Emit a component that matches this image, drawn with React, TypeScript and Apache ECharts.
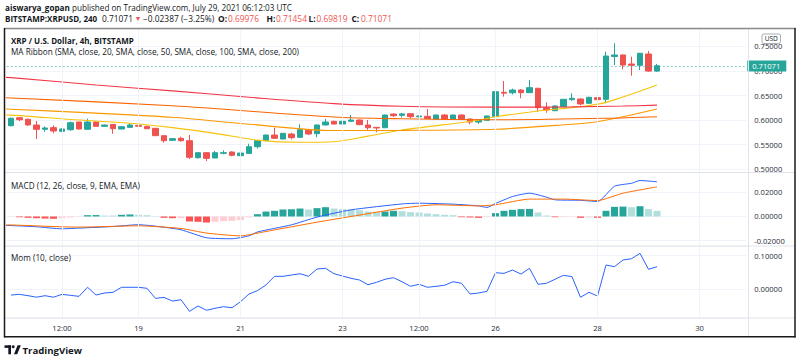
import React, { useEffect, useRef } from 'react';
import * as echarts from 'echarts';

const FONT = "'Open Sans', 'Noto Sans', sans-serif";
const TEXT = '#131722';
const AXIS_TEXT = '#2a2e39';
const GRID = '#f0f3fa';
const SEP = '#e0e3eb';
const UP = '#26a69a';
const DOWN = '#ef5350';

const pad2 = (n: number) => String(n).padStart(2, '0');
const FIRST_BAR_UTC = Date.UTC(2021, 6, 16, 12, 0);
const SLOT_COUNT = 87;
const categories: string[] = Array.from({ length: SLOT_COUNT }, (_, k) => {
  const d = new Date(FIRST_BAR_UTC + k * 4 * 3600 * 1000);
  return `${d.getUTCFullYear()}-${pad2(d.getUTCMonth() + 1)}-${pad2(d.getUTCDate())} ${pad2(d.getUTCHours())}:00`;
});

const tickCategories = [
  '2021-07-17 12:00', '2021-07-19 00:00', '2021-07-21 00:00', '2021-07-23 00:00',
  '2021-07-24 12:00', '2021-07-26 00:00', '2021-07-28 00:00', '2021-07-30 00:00',
];
const tickLabels = ['12:00', '19', '21', '23', '12:00', '26', '28', '30'];

const opens = [0.5884,0.6047,0.6014,0.5898,0.5810,0.5844,0.5769,0.5802,0.5959,0.5810,
  0.5959,0.5871,0.5911,0.5816,0.5850,0.5890,0.5870,0.5830,0.5680,0.5585,
  0.5626,0.5578,0.5231,0.5333,0.5225,0.5320,0.5347,0.5272,0.5319,0.5455,
  0.5578,0.5694,0.5612,0.5714,0.5647,0.5802,0.5721,0.5898,0.5973,0.5918,
  0.5973,0.6000,0.5898,0.5850,0.5843,0.6122,0.6095,0.6129,0.6065,0.6075,
  0.6020,0.6102,0.6020,0.6102,0.6020,0.5959,0.5993,0.6068,0.6565,0.6555,
  0.6612,0.6558,0.6647,0.6251,0.6190,0.6272,0.6415,0.6429,0.6341,0.6456,
  0.6422,0.7295,0.7327,0.7143,0.7116,0.7347,0.69976];
const closes = [0.6035,0.6006,0.5900,0.5810,0.5837,0.5776,0.5816,0.5945,0.5816,0.5959,
  0.5871,0.5898,0.5823,0.5864,0.5898,0.5872,0.5823,0.5680,0.5578,0.5620,
  0.5578,0.5239,0.5333,0.5218,0.5333,0.5333,0.5280,0.5326,0.5455,0.5578,
  0.5694,0.5626,0.5728,0.5640,0.5802,0.5714,0.5898,0.5959,0.5918,0.5973,
  0.6000,0.5905,0.5843,0.5837,0.6102,0.6088,0.6125,0.6068,0.6082,0.6030,
  0.6102,0.6020,0.6102,0.6014,0.5959,0.6000,0.6082,0.6578,0.6548,0.6612,
  0.6558,0.6660,0.6251,0.6204,0.6286,0.6422,0.6443,0.6327,0.6463,0.6415,
  0.7306,0.7327,0.7122,0.7116,0.7361,0.6998,0.71071];
const lows = [0.5870,0.5979,0.5880,0.5612,0.5760,0.5729,0.5755,0.5780,0.5810,0.5805,
  0.5865,0.5860,0.5720,0.5810,0.5845,0.5770,0.5815,0.5675,0.5537,0.5575,
  0.5560,0.5204,0.5215,0.5163,0.5220,0.5300,0.5260,0.5180,0.5315,0.5420,
  0.5570,0.5620,0.5605,0.5605,0.5640,0.5700,0.5646,0.5890,0.5910,0.5900,
  0.5965,0.5895,0.5800,0.5750,0.5835,0.6060,0.6050,0.6035,0.6055,0.6020,
  0.6015,0.6015,0.6015,0.6005,0.5912,0.5920,0.5985,0.6060,0.6476,0.6520,
  0.6443,0.6550,0.6170,0.6149,0.6180,0.6265,0.6390,0.6300,0.6335,0.6390,
  0.6340,0.7120,0.7035,0.6904,0.7020,0.6985,0.69819];
const highs = [0.6050,0.6061,0.6030,0.5980,0.5870,0.5890,0.5830,0.5970,0.5965,0.6027,
  0.5975,0.5905,0.5915,0.5870,0.5939,0.5895,0.5885,0.5835,0.5685,0.5630,
  0.5660,0.5694,0.5340,0.5340,0.5370,0.5380,0.5360,0.5330,0.5516,0.5590,
  0.5700,0.5843,0.5735,0.5740,0.5912,0.5820,0.5905,0.6020,0.5985,0.6035,
  0.6102,0.6010,0.6000,0.5855,0.6110,0.6135,0.6145,0.6135,0.6090,0.6225,
  0.6110,0.6120,0.6110,0.6110,0.6025,0.6005,0.6090,0.6612,0.6796,0.6640,
  0.6630,0.6816,0.6660,0.6361,0.6295,0.6430,0.6545,0.6440,0.6475,0.6475,
  0.7394,0.7565,0.7340,0.7292,0.7370,0.7408,0.71454];

// MA Ribbon readings [bar position, value] (first point is the left edge of the pane)
const ma20 = [[-0.7,0.6102],[0,0.610],[7,0.601],[14,0.5935],[19,0.5845],[24,0.5728],[29,0.5590],[34,0.5545],[38,0.5557],[42,0.5672],[46,0.5795],[51,0.5905],[55,0.5995],[57,0.6065],[62,0.6184],[67,0.6272],[70,0.6360],[76,0.6714]];
const ma50 = [[-0.7,0.6225],[0,0.6220],[10,0.6140],[19,0.6055],[28,0.5915],[38,0.5785],[46,0.5788],[57,0.5810],[64,0.5890],[69,0.5966],[76,0.6225]];
const ma100 = [[-0.7,0.6455],[0,0.6450],[19,0.6290],[38,0.6062],[46,0.6025],[57,0.6005],[70,0.6035],[76,0.6068]];
const ma200 = [[-0.7,0.6871],[0,0.6865],[10,0.6714],[19,0.6595],[28,0.6465],[38,0.6335],[46,0.6280],[57,0.6262],[66,0.6268],[72,0.6285],[76,0.6303]];

const macdLine = [[-0.7,-0.0074],[0,-0.0075],[3,-0.0085],[6,-0.0102],[8,-0.0096],[12,-0.0083],[15,-0.0068],[17,-0.0080],[20,-0.0110],[23,-0.0176],[26,-0.0184],[28,-0.0160],[29,-0.0128],[33,-0.0069],[36,-0.0005],[40,0.0055],[46,0.0104],[48,0.0110],[52,0.0102],[55,0.0088],[56,0.0075],[57,0.0108],[59,0.0165],[61,0.0193],[63,0.0160],[64,0.0138],[67,0.0134],[69,0.0124],[71,0.0250],[73,0.0275],[74,0.0298],[76,0.0287]];
const signalLine = [[-0.7,-0.0069],[0,-0.0070],[8,-0.0088],[15,-0.0077],[20,-0.0099],[23,-0.0137],[27,-0.0160],[30,-0.0124],[36,-0.0047],[40,0.0000],[46,0.0069],[50,0.0097],[55,0.0088],[57,0.0097],[61,0.0144],[65,0.0144],[69,0.0132],[72,0.0193],[76,0.0245]];
const macdHist = [-0.0003,-0.0006,-0.0011,-0.0014,-0.0017,-0.0019,-0.0014,-0.0008,-0.0003,0.0011,
  0.0012,0.0008,0.0008,0.0014,0.0017,0.0014,0.0011,0.0003,-0.0011,-0.0014,
  -0.0014,-0.0041,-0.0044,-0.0050,-0.0044,-0.0039,-0.0036,-0.0030,-0.0008,0.0019,
  0.0041,0.0047,0.0058,0.0060,0.0066,0.0058,0.0069,0.0077,0.0066,0.0060,
  0.0058,0.0052,0.0041,0.0039,0.0041,0.0047,0.0044,0.0036,0.0033,0.0025,
  0.0019,0.0014,0.0011,-0.0006,-0.0008,-0.0011,-0.0006,0.0028,0.0047,0.0055,
  0.0061,0.0063,0.0033,0.0008,-0.0006,-0.0005,-0.0003,-0.0011,-0.0008,-0.0011,
  0.0047,0.0080,0.0082,0.0077,0.0085,0.0061,0.0047];
const momentum = [-0.017,-0.015,-0.019,-0.0235,-0.019,-0.0235,-0.015,-0.018,-0.021,0.006,
  -0.017,-0.011,-0.009,0.006,0.006,0.006,0.003,-0.027,-0.024,-0.035,
  -0.031,-0.0655,-0.0497,-0.0625,-0.0565,-0.0518,-0.0548,-0.037,-0.014,-0.004,
  0.013,0.0387,0.0387,0.0426,0.0464,0.0387,0.0604,0.0625,0.0464,0.0396,
  0.0327,0.0277,0.0137,0.0208,0.0298,0.0345,0.0226,0.0089,0.0149,0.006,
  0.0089,0.0119,0.0226,0.0179,-0.014,-0.011,-0.006,0.0494,0.0474,0.0574,
  0.0454,0.0625,0.0149,0.0179,0.0298,0.0417,0.0377,-0.0238,-0.0089,-0.0199,
  0.0723,0.0673,0.0872,0.0911,0.1071,0.0595,0.0673];

const changeText = '\u22120.02387 (\u22123.25%)';

const GRID_LEFT = 6.75;
const GRID_RIGHT = 53.75;
const fmt5 = (v: number) => v.toFixed(5);

function yAxis(gridIndex: number, min: number, max: number, splitNumber: number, step: number) {
  return {
    type: 'value', gridIndex, position: 'right', min, max, splitNumber,
    axisLine: { show: false }, axisTick: { show: false },
    axisLabel: {
      margin: 8, fontSize: 7.6, color: AXIS_TEXT, fontFamily: FONT,
      formatter: (v: number) => (Math.abs(v / step - Math.round(v / step)) < 1e-6 ? fmt5(v) : ''),
    },
    splitLine: { lineStyle: { color: GRID, width: 1 } },
  };
}

function xAxis(gridIndex: number, showLabels: boolean) {
  return {
    type: 'category', gridIndex, data: categories, boundaryGap: true,
    axisLine: { show: false }, axisTick: { show: false }, splitLine: { show: false },
    axisLabel: showLabels
      ? {
          interval: (_i: number, v: string) => tickCategories.includes(v),
          formatter: (v: string) => { const k = tickCategories.indexOf(v); return k >= 0 ? tickLabels[k] : ''; },
          fontSize: 7.6, color: AXIS_TEXT, margin: 6, fontFamily: FONT,
        }
      : { show: false },
  };
}

function vGrid(g: number) {
  return {
    type: 'line', xAxisIndex: g, yAxisIndex: g, data: [], silent: true, z: 0,
    markLine: {
      silent: true, symbol: ['none', 'none'], label: { show: false },
      lineStyle: { color: GRID, width: 1, type: 'solid' },
      data: tickCategories.map((c) => ({ xAxis: c })),
    },
  };
}

function maSeries(data: number[][], color: string) {
  return {
    type: 'line', xAxisIndex: 0, yAxisIndex: 0, data, showSymbol: false, smooth: 0.3,
    lineStyle: { color, width: 1.1 }, silent: true, z: 3,
  };
}

function histColor(i: number) {
  const v = macdHist[i];
  const prev = i > 0 ? macdHist[i - 1] : v;
  if (v >= 0) return v > prev ? '#26a69a' : '#b2dfdb';
  return v < prev ? '#ff5252' : '#ffcdd2';
}

function buildOption() {
  const n = closes.length - 1;
  const last = closes[n];
  const H2 = 8.4;
  const LBL = 8.2;
  const line = (x1: number, y1: number, x2: number, y2: number, stroke: string, lw = 1) => ({
    type: 'line', shape: { x1, y1, x2, y2 }, style: { stroke, lineWidth: lw }, silent: true, z: 50,
  });
  const label = (x: number, y: number, text: string, bold = false, size = LBL, fill = TEXT) => ({
    type: 'text', x, y, silent: true, z: 60,
    style: { text, fill, fontSize: size, fontFamily: FONT, fontWeight: bold ? 'bold' : 'normal', verticalAlign: 'middle', align: 'left' },
  });

  return {
    animation: false,
    backgroundColor: '#ffffff',
    textStyle: { fontFamily: FONT },
    grid: [
      { left: GRID_LEFT, right: GRID_RIGHT, top: 29, height: 143.5 },
      { left: GRID_LEFT, right: GRID_RIGHT, top: 172.5, height: 73.5 },
      { left: GRID_LEFT, right: GRID_RIGHT, top: 246, height: 72 },
    ],
    xAxis: [xAxis(0, false), xAxis(1, false), xAxis(2, true)],
    yAxis: [
      yAxis(0, 0.4929, 0.7857, 5, 0.05),
      yAxis(1, -0.02442, 0.03642, 3, 0.02),
      yAxis(2, -0.0854, 0.1289, 2, 0.1),
    ],
    series: [
      vGrid(0), vGrid(1), vGrid(2),
      {
        type: 'candlestick', xAxisIndex: 0, yAxisIndex: 0, barWidth: 6, z: 2,
        data: opens.map((o, i) => [o, closes[i], lows[i], highs[i]]),
        itemStyle: { color: UP, color0: DOWN, borderColor: UP, borderColor0: DOWN, borderWidth: 1 },
        markLine: {
          silent: true, symbol: ['none', 'none'],
          lineStyle: { color: 'rgba(38,166,154,0.55)', width: 1, type: [2, 2] },
          label: {
            show: true, position: 'end', distance: 1, formatter: () => fmt5(last),
            color: '#ffffff', backgroundColor: UP, padding: [2, 6, 1, 5], fontSize: 7.6, fontFamily: FONT,
          },
          emphasis: { disabled: true },
          data: [{ yAxis: last }],
        },
      },
      maSeries(ma20, '#f6c309'),
      maSeries(ma50, '#fb9800'),
      maSeries(ma100, '#fb6500'),
      maSeries(ma200, '#f23645'),
      {
        type: 'bar', xAxisIndex: 1, yAxisIndex: 1, barWidth: 7, silent: true,
        data: macdHist.map((v, i) => ({ value: v, itemStyle: { color: histColor(i) } })),
      },
      { type: 'line', xAxisIndex: 1, yAxisIndex: 1, data: macdLine, showSymbol: false, smooth: 0.2, lineStyle: { color: '#2962ff', width: 1 }, silent: true },
      { type: 'line', xAxisIndex: 1, yAxisIndex: 1, data: signalLine, showSymbol: false, smooth: 0.2, lineStyle: { color: '#ff6d00', width: 1 }, silent: true },
      { type: 'line', xAxisIndex: 2, yAxisIndex: 2, data: momentum, showSymbol: false, lineStyle: { color: '#2962ff', width: 1 }, silent: true },
    ],
    graphic: [
      {
        type: 'text', x: 5, y: 7.5, silent: true,
        style: {
          text: '{b|aiswarya_gopan} published on TradingView.com, July 29, 2021 06:12:03 UTC',
          fill: TEXT, fontSize: 8.15, fontFamily: FONT, verticalAlign: 'middle',
          rich: { b: { fontWeight: 'bold', fontSize: 8.15, fontFamily: FONT, fill: TEXT } },
        },
      },
      label(5, 18, 'BITSTAMP:XRPUSD, 240', true, 8.0),
      label(102, 18, fmt5(last), false, H2),
      label(134.5, 18, '\u25BC', false, 7, DOWN),
      label(143, 18, changeText, false, H2),
      label(218, 18, 'O:', true, H2),
      label(228, 18, fmt5(opens[n]), false, H2, DOWN),
      label(266.5, 18, 'H:', true, H2),
      label(276, 18, fmt5(highs[n]), false, H2, DOWN),
      label(308.5, 18, 'L:', true, H2),
      label(316.5, 18, fmt5(lows[n]), false, H2, DOWN),
      label(351.5, 18, 'C:', true, H2),
      label(361, 18, fmt5(last), false, H2, DOWN),
      label(11, 40, 'XRP / U.S. Dollar, 4h, BITSTAMP', true, 8.0),
      label(11, 51.7, 'MA Ribbon (SMA, close, 20, SMA, close, 50, SMA, close, 100, SMA, close, 200)'),
      label(11, 185, 'MACD (12, 26, close, 9, EMA, EMA)'),
      label(11, 257.5, 'Mom (10, close)'),
      line(5, 172.5, 795, 172.5, SEP),
      line(5, 246, 795, 246, SEP),
      line(5, 318, 795, 318, SEP),
      line(748.5, 29, 748.5, 336, SEP),
      line(4, 28.5, 795.5, 28.5, '#8a8a8a', 1.5),
      line(4.5, 28, 4.5, 337.5, '#1a1a1a', 1.5),
      line(4, 336.8, 795.5, 336.8, '#1a1a1a', 1.5),
      line(795, 28, 795, 337.5, '#1a1a1a', 1.5),
      {
        type: 'rect', shape: { x: 762, y: 34, width: 18.5, height: 9.5, r: 2 }, z: 70, silent: true,
        style: { fill: '#ffffff', stroke: '#9598a1', lineWidth: 0.8 },
      },
      {
        type: 'text', x: 771.25, y: 38.9, z: 71, silent: true,
        style: { text: 'USD', fill: TEXT, fontSize: 6.6, fontFamily: FONT, align: 'center', verticalAlign: 'middle' },
      },
      { type: 'rect', shape: { x: 4.5, y: 345.3, width: 6.5, height: 2.6 }, style: { fill: TEXT }, silent: true },
      { type: 'rect', shape: { x: 8.3, y: 345.3, width: 2.7, height: 9 }, style: { fill: TEXT }, silent: true },
      { type: 'circle', shape: { cx: 13.2, cy: 346.8, r: 1.5 }, style: { fill: TEXT }, silent: true },
      { type: 'polygon', shape: { points: [[17.6, 345.3], [20.8, 345.3], [17.2, 354.3], [14.0, 354.3]] }, style: { fill: TEXT }, silent: true },
      {
        type: 'text', x: 22.5, y: 350, silent: true,
        style: { text: 'TradingView', fill: TEXT, fontSize: 9.6, fontWeight: 'bold', fontFamily: FONT, verticalAlign: 'middle' },
      },
    ],
  };
}

export default function App() {
  const ref = useRef<HTMLDivElement>(null);
  useEffect(() => {
    if (!ref.current) return;
    const chart = echarts.init(ref.current, null, { renderer: 'svg' });
    chart.setOption(buildOption() as any);
    return () => chart.dispose();
  }, []);
  return (
    <div
      ref={ref}
      style={{ position: 'absolute', left: 0, top: 0, width: 800, height: 362, background: '#fff' }}
    />
  );
}
